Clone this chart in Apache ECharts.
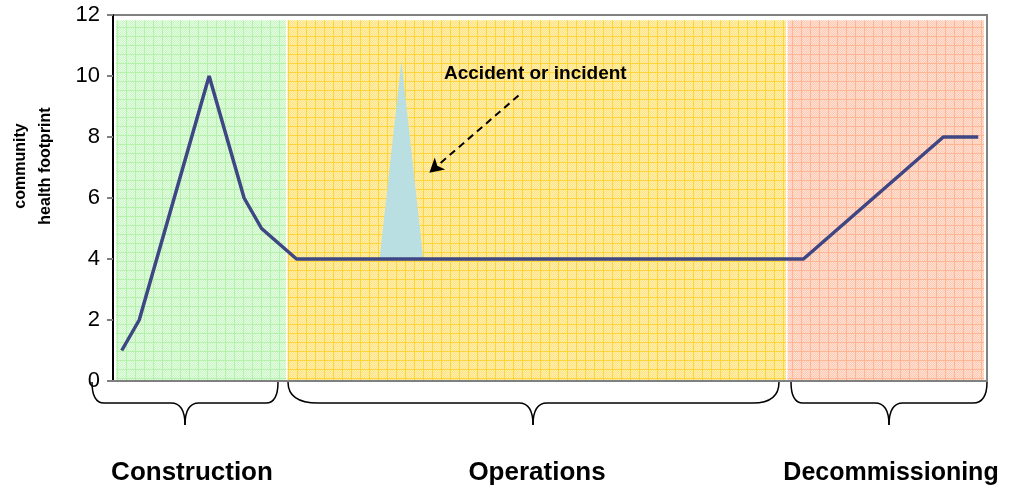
<!DOCTYPE html>
<html>
<head>
<meta charset="utf-8">
<script src="https://cdn.jsdelivr.net/npm/echarts@6/dist/echarts.min.js"></script>
<style>
  html, body { margin: 0; padding: 0; background: #fff; }
  #chart { width: 1013px; height: 488px; }
</style>
</head>
<body>
<div id="chart"></div>
<script>
// footprint line (period index -> value)
var periods = [0, 1, 5, 7, 8, 10, 39, 47, 49];
var footprint = [1, 2, 10, 6, 5, 4, 4, 8, 8];

// accident spike
var accidentX = [14.75, 16, 17.25];
var accidentY = [4, 10.5, 4];

// phases
var phaseNames = ['Construction', 'Operations', 'Decommissioning'];
var phaseStart = [-0.33, 9.48, 38.09];
var phaseEnd = [9.4, 38.0, 49.33];
var phaseTop = 11.83;

var yTicks = [0, 2, 4, 6, 8, 10, 12];

// 格子背景
function makePattern(line, base, light) {
    var c = document.createElement('canvas');
    c.width = 9; c.height = 9;
    var ctx = c.getContext('2d');
    for (var x = 0; x < 9; x++) {
        for (var y = 0; y < 9; y++) {
            if (x == 0 || y == 0) ctx.fillStyle = line;
            else ctx.fillStyle = (x + y) % 2 == 0 ? base : light;
            ctx.fillRect(x, y, 1, 1);
        }
    }
    return { image: c, repeat: 'repeat' };
}
var patterns = [
    makePattern('#b4f2ac', '#c9f7c3', '#e6fce4'),
    makePattern('#ffd43a', '#ffe27a', '#fff0b8'),
    makePattern('#ffb494', '#ffc9b2', '#ffe2d6')
];

var areas = [];
for (var i = 0; i < phaseNames.length; i++) {
    areas.push([
        { xAxis: phaseStart[i], yAxis: 0.03, itemStyle: { color: patterns[i], opacity: 1 } },
        { xAxis: phaseEnd[i], yAxis: phaseTop }
    ]);
}

var lineData = [];
for (var i = 0; i < periods.length; i++) lineData.push([periods[i], footprint[i]]);
var accData = [];
for (var i = 0; i < accidentX.length; i++) accData.push([accidentX[i], accidentY[i]]);

// 花括号
var braceStyle = { fill: 'none', stroke: '#000', lineWidth: 1.5 };
function brace(x1, xm, x2, r1, r2) {
    var y0 = 382, ym = 403, yt = 425;
    return [
        { type: 'bezierCurve', shape: { x1: x1, y1: y0, cpx1: x1, cpy1: ym, x2: x1 + r1, y2: ym }, style: braceStyle },
        { type: 'line', shape: { x1: x1 + r1, y1: ym, x2: xm - 14, y2: ym }, style: braceStyle },
        { type: 'bezierCurve', shape: { x1: xm - 14, y1: ym, cpx1: xm, cpy1: ym, x2: xm, y2: yt }, style: braceStyle },
        { type: 'bezierCurve', shape: { x1: xm, y1: yt, cpx1: xm, cpy1: ym, x2: xm + 14, y2: ym }, style: braceStyle },
        { type: 'line', shape: { x1: xm + 14, y1: ym, x2: x2 - r2, y2: ym }, style: braceStyle },
        { type: 'bezierCurve', shape: { x1: x2 - r2, y1: ym, cpx1: x2, cpy1: ym, x2: x2, y2: y0 }, style: braceStyle }
    ];
}

var chart = echarts.init(document.getElementById('chart'));
var font = 'Liberation Sans, Arial, sans-serif';

var graphics = [
    { type: 'text', z: 100, x: 444, y: 64, style: { text: 'Accident or incident', font: 'bold 19px ' + font, fill: '#000' } },
    { type: 'text', z: 100, x: 192, y: 473, style: { text: phaseNames[0], font: 'bold 26px ' + font, fill: '#000', align: 'center', verticalAlign: 'middle' } },
    { type: 'text', z: 100, x: 537, y: 473, style: { text: phaseNames[1], font: 'bold 26px ' + font, fill: '#000', align: 'center', verticalAlign: 'middle' } },
    { type: 'text', z: 100, x: 891, y: 473, style: { text: phaseNames[2], font: 'bold 25px ' + font, fill: '#000', align: 'center', verticalAlign: 'middle' } }
];
graphics = graphics.concat(brace(92, 185, 278, 12, 12), brace(288, 533, 779, 30, 26), brace(791, 889, 987, 12, 14));

chart.setOption({
    animation: false,
    grid: {
        left: 113, right: 26, top: 15, bottom: 107, outerBoundsMode: 'none',
        show: true, borderColor: '#808080', borderWidth: 2, backgroundColor: 'transparent'
    },
    xAxis: {
        type: 'value', min: -0.5, max: 49.5,
        axisLine: { onZero: false, lineStyle: { color: '#808080', width: 2 } },
        axisTick: { show: false }, axisLabel: { show: false }, splitLine: { show: false }
    },
    yAxis: {
        type: 'value', min: yTicks[0], max: yTicks[yTicks.length - 1], interval: 2,
        name: 'community\nhealth footprint',
        nameLocation: 'middle', nameGap: 55,
        nameTextStyle: { fontFamily: font, fontSize: 16, fontWeight: 'bold', color: '#000', lineHeight: 25, padding: [0, 0, 0, 64] },
        axisLine: { onZero: false, lineStyle: { color: '#000', width: 2 } },
        axisTick: { length: 6, lineStyle: { color: '#808080', width: 2 } },
        axisLabel: { fontFamily: font, fontSize: 22, color: '#000', margin: 13 },
        splitLine: { show: false }
    },
    series: [
        {
            type: 'custom', z: 2, silent: true,
            renderItem: function (params, api) {
                if (params.dataIndex > 0) return;
                var pts = [];
                for (var k = 0; k < accData.length; k++) pts.push(api.coord(accData[k]));
                return { type: 'polygon', shape: { points: pts }, style: { fill: '#b9dfe2' } };
            },
            data: accData,
            markArea: { silent: true, data: areas }
        },
        {
            type: 'line', z: 3, data: lineData, symbol: 'none',
            lineStyle: { color: '#3e4784', width: 3.5 },
            markLine: {
                silent: true, symbol: ['none', 'arrow'], symbolSize: [12, 14],
                lineStyle: { color: '#000', width: 2, type: [7, 5] },
                label: { show: false },
                data: [[{ coord: [22.7, 9.36] }, { coord: [17.6, 6.83] }]]
            }
        }
    ],
    graphic: graphics
});
</script>
</body>
</html>
